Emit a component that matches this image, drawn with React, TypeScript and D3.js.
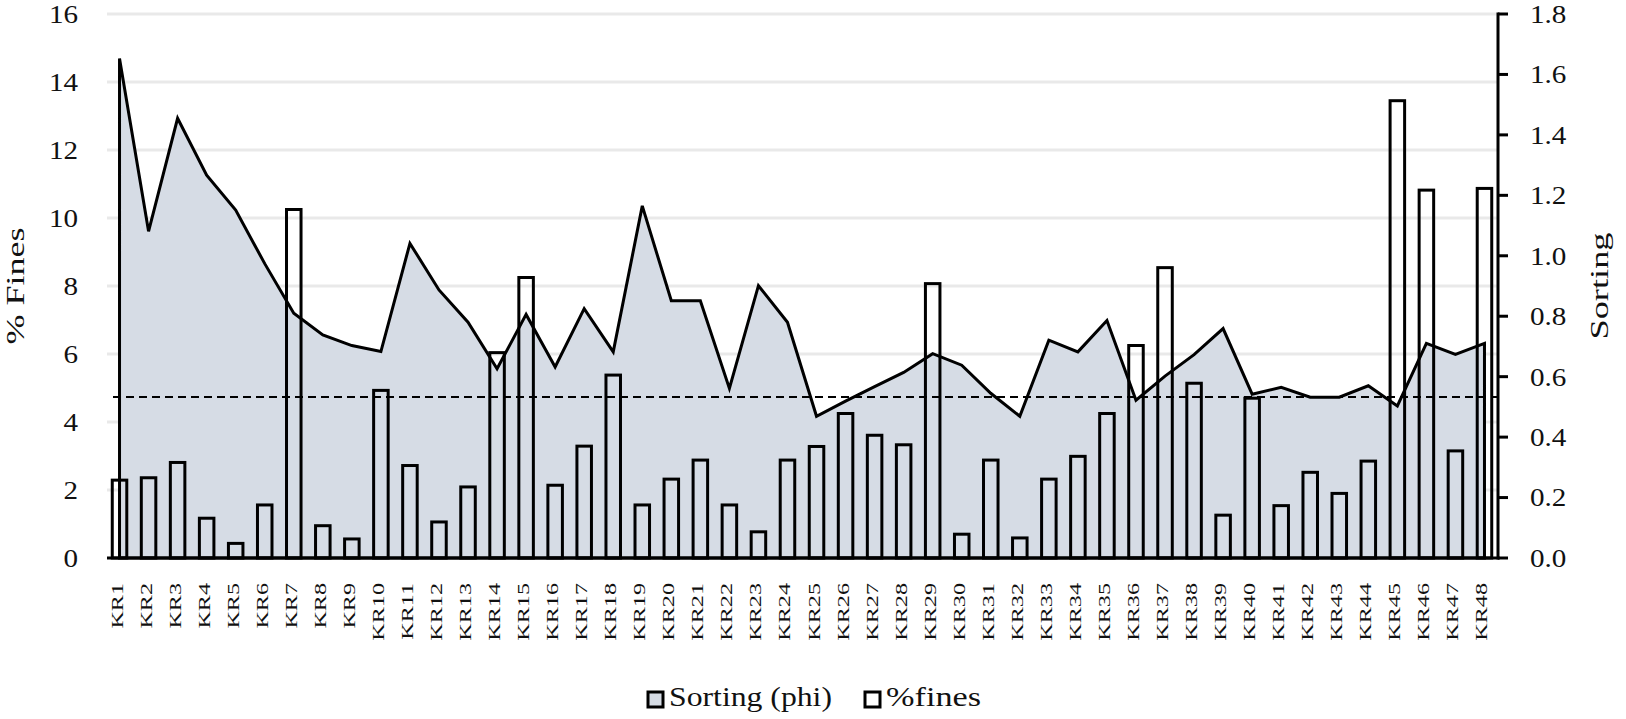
import { useEffect, useRef } from "react";
import * as d3 from "d3";

// sample stations along the x axis
const samples = [
  "KR1", "KR2", "KR3", "KR4", "KR5", "KR6", "KR7", "KR8", "KR9", "KR10",
  "KR11", "KR12", "KR13", "KR14", "KR15", "KR16", "KR17", "KR18", "KR19", "KR20",
  "KR21", "KR22", "KR23", "KR24", "KR25", "KR26", "KR27", "KR28", "KR29", "KR30",
  "KR31", "KR32", "KR33", "KR34", "KR35", "KR36", "KR37", "KR38", "KR39", "KR40",
  "KR41", "KR42", "KR43", "KR44", "KR45", "KR46", "KR47", "KR48",
];

// sorting (phi), right axis
const sortingPhi = [
  1.653, 1.081, 1.455, 1.267, 1.151, 0.974, 0.81, 0.738, 0.703, 0.683,
  1.041, 0.887, 0.78, 0.626, 0.806, 0.632, 0.825, 0.682, 1.165, 0.851,
  0.851, 0.561, 0.901, 0.78, 0.469, 0.519, 0.567, 0.614, 0.676, 0.638,
  0.545, 0.469, 0.721, 0.682, 0.786, 0.522, 0.602, 0.673, 0.759, 0.542,
  0.565, 0.532, 0.532, 0.57, 0.503, 0.71, 0.674, 0.71,
];

// % fines, left axis
const fines = [
  2.29, 2.36, 2.81, 1.17, 0.43, 1.56, 10.25, 0.95, 0.56, 4.93,
  2.72, 1.06, 2.09, 6.04, 8.25, 2.14, 3.29, 5.38, 1.56, 2.32,
  2.88, 1.56, 0.77, 2.88, 3.28, 4.25, 3.61, 3.33, 8.07, 0.7,
  2.88, 0.59, 2.32, 2.99, 4.25, 6.25, 8.54, 5.14, 1.26, 4.7,
  1.54, 2.52, 1.9, 2.85, 13.45, 10.82, 3.15, 10.87,
];

// dashed reference level, in sorting units
const sortingRef = 0.533;

const finesTicks = [0, 2, 4, 6, 8, 10, 12, 14, 16];
const sortingTicks = [0, 0.2, 0.4, 0.6, 0.8, 1.0, 1.2, 1.4, 1.6, 1.8];

const legendItems = [
  { label: "Sorting (phi)", fill: "#D6DCE5" },
  { label: "%fines", fill: "#ffffff" },
];

export default function App() {
  const svgRef = useRef<SVGSVGElement>(null);

  useEffect(() => {
    if (!svgRef.current) return;
    const svg = d3.select(svgRef.current);
    svg.selectAll("*").remove();

    const width = 1626;
    const height = 719;
    const plot = { left: 105, right: 1499, top: 14, bottom: 558 };
    const axisLeft = 107;
    const axisRight = 1498;
    const serif = "'Liberation Serif', 'Times New Roman', serif";

    svg.attr("width", width).attr("height", height);

    const x = d3
      .scaleBand<string>()
      .domain(samples)
      .range([plot.left, plot.right]);
    const cx = (d: string) => (x(d) ?? 0) + x.bandwidth() / 2;
    const yL = d3.scaleLinear().domain([0, 16]).range([plot.bottom, plot.top]);
    const yR = d3.scaleLinear().domain([0, 1.8]).range([plot.bottom, plot.top]);

    // Gridlines
    svg
      .append("g")
      .selectAll("line")
      .data(finesTicks.filter((t) => t > 0))
      .join("line")
      .attr("x1", axisLeft)
      .attr("x2", axisRight)
      .attr("y1", (d) => yL(d))
      .attr("y2", (d) => yL(d))
      .attr("stroke", "#e9e9e9")
      .attr("stroke-width", 3);

    // Sorting area
    const area = d3
      .area<number>()
      .x((_, i) => cx(samples[i]))
      .y0(plot.bottom)
      .y1((d) => yR(d));

    svg
      .append("path")
      .datum(sortingPhi)
      .attr("d", area)
      .attr("fill", "#D6DCE5")
      .attr("stroke", "black")
      .attr("stroke-width", 3)
      .attr("stroke-linejoin", "miter");

    // Dashed reference line
    svg
      .append("line")
      .attr("x1", 113)
      .attr("x2", axisRight)
      .attr("y1", yR(sortingRef))
      .attr("y2", yR(sortingRef))
      .attr("stroke", "black")
      .attr("stroke-width", 2)
      .attr("stroke-dasharray", "8,5");

    // %fines bars (hollow)
    const barW = x.bandwidth() * 0.5;
    svg
      .append("g")
      .selectAll("rect")
      .data(fines)
      .join("rect")
      .attr("x", (_, i) => cx(samples[i]) - barW / 2)
      .attr("y", (d) => yL(d))
      .attr("width", barW)
      .attr("height", (d) => plot.bottom - yL(d))
      .attr("fill", "none")
      .attr("stroke", "black")
      .attr("stroke-width", 3);

    // Baseline
    svg
      .append("line")
      .attr("x1", axisLeft)
      .attr("x2", axisRight + 1.5)
      .attr("y1", plot.bottom)
      .attr("y2", plot.bottom)
      .attr("stroke", "black")
      .attr("stroke-width", 3);

    // Right axis
    svg
      .append("line")
      .attr("x1", axisRight)
      .attr("x2", axisRight)
      .attr("y1", plot.top - 1.5)
      .attr("y2", plot.bottom + 1.5)
      .attr("stroke", "black")
      .attr("stroke-width", 3);

    svg
      .append("g")
      .selectAll("line")
      .data(sortingTicks)
      .join("line")
      .attr("x1", axisRight)
      .attr("x2", axisRight + 10)
      .attr("y1", (d) => yR(d))
      .attr("y2", (d) => yR(d))
      .attr("stroke", "black")
      .attr("stroke-width", 3);

    svg
      .append("g")
      .selectAll("text")
      .data(sortingTicks)
      .join("text")
      .attr("transform", (d) => `translate(1530,${yR(d)}) scale(1.12,1)`)
      .attr("dy", "0.34em")
      .attr("font-family", serif)
      .attr("font-size", "26px")
      .attr("fill", "#111")
      .text((d) => d.toFixed(1));

    // Left axis labels
    svg
      .append("g")
      .selectAll("text")
      .data(finesTicks)
      .join("text")
      .attr("transform", (d) => `translate(78,${yL(d)}) scale(1.12,1)`)
      .attr("dy", "0.34em")
      .attr("text-anchor", "end")
      .attr("font-family", serif)
      .attr("font-size", "26px")
      .attr("fill", "#111")
      .text((d) => d);

    // Category labels
    svg
      .append("g")
      .selectAll("text")
      .data(samples)
      .join("text")
      .attr("transform", (d) => `translate(${cx(d) + 3},583) rotate(-90) scale(1.42,1)`)
      .attr("text-anchor", "end")
      .attr("font-family", serif)
      .attr("font-size", "17px")
      .attr("fill", "#111")
      .text((d) => d);

    // Axis titles
    svg
      .append("text")
      .attr("transform", `translate(24,${(plot.top + plot.bottom) / 2}) rotate(-90)`)
      .attr("text-anchor", "middle")
      .attr("font-family", serif)
      .attr("font-size", "26px")
      .attr("fill", "#111")
      .attr("textLength", 117)
      .attr("lengthAdjust", "spacingAndGlyphs")
      .text("% Fines");

    svg
      .append("text")
      .attr("transform", `translate(1608,${(plot.top + plot.bottom) / 2}) rotate(-90)`)
      .attr("text-anchor", "middle")
      .attr("font-family", serif)
      .attr("font-size", "26px")
      .attr("fill", "#111")
      .attr("textLength", 107)
      .attr("lengthAdjust", "spacingAndGlyphs")
      .text("Sorting");

    // Legend
    const legendX = [648, 865];
    const legendW = [163, 95];
    const legend = svg.append("g");
    legendItems.forEach((item, i) => {
      legend
        .append("rect")
        .attr("x", legendX[i])
        .attr("y", 692)
        .attr("width", 15)
        .attr("height", 15)
        .attr("fill", item.fill)
        .attr("stroke", "black")
        .attr("stroke-width", 3);
      legend
        .append("text")
        .attr("x", legendX[i] + 21)
        .attr("y", 706)
        .attr("font-family", serif)
        .attr("font-size", "27px")
        .attr("fill", "#111")
        .attr("textLength", legendW[i])
        .attr("lengthAdjust", "spacingAndGlyphs")
        .text(item.label);
    });
  }, []);

  return (
    <div>
      <style>{`body{margin:0;background:#fff}`}</style>
      <svg ref={svgRef} style={{ display: "block" }}></svg>
    </div>
  );
}
